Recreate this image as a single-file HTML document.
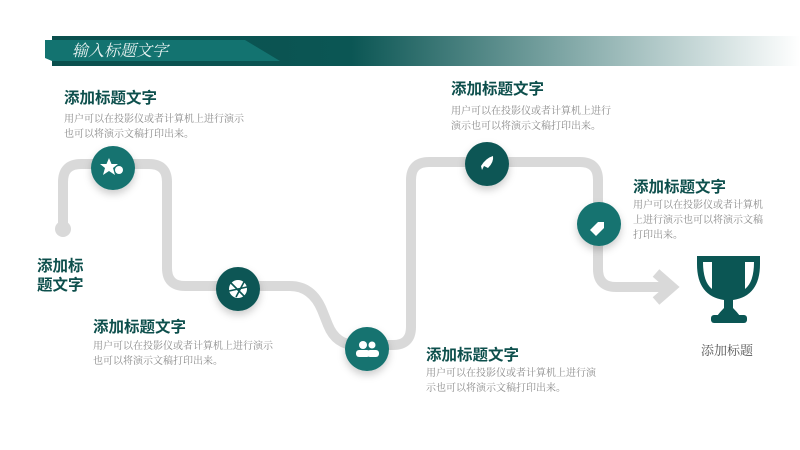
<!DOCTYPE html>
<html><head><meta charset="utf-8"><style>
body{margin:0;width:800px;height:450px;background:#fff;position:relative;overflow:hidden;font-family:"Liberation Sans","Noto Sans CJK SC",sans-serif}
.t{position:absolute;color:#0d4f4c;font-weight:bold;font-size:15.5px;white-space:nowrap}
.d{position:absolute;color:#8a8a8a;font-size:10px;line-height:15px;font-family:"Liberation Serif","Noto Serif CJK SC",serif;white-space:nowrap}
</style></head><body>
<svg width="800" height="450" style="position:absolute;left:0;top:0">
<defs>
<linearGradient id="g" x1="0" x2="1"><stop offset="0" stop-color="#0a4f4d"/><stop offset="0.4" stop-color="#0b5654"/><stop offset="1" stop-color="#0b5654" stop-opacity="0"/></linearGradient>
<filter id="sh" x="-50%" y="-50%" width="200%" height="200%"><feDropShadow dx="0" dy="4" stdDeviation="4" flood-color="#000" flood-opacity="0.2"/></filter>
</defs>
<rect x="52" y="36" width="748" height="30" fill="url(#g)"/>
<polygon points="45,40 245,40 280,61 52,61 45,58" fill="#137370"/>
<text x="72" y="56" fill="#e8f2f1" font-size="16" font-style="italic" font-family="Liberation Serif,Noto Serif CJK SC,serif">输入标题文字</text>
<path d="M63,229 V182 Q63,164 81,164 H149 Q167,164 167,182 V268 Q167,286 185,286 H290 Q312,286 322,310 L328,325 Q336,345 356,345 H393 Q411,345 411,327 V180 Q411,162 429,162 H580 Q598,162 598,180 V269 Q598,287 616,287 H668" fill="none" stroke="#d9d9d9" stroke-width="10"/>
<circle cx="63" cy="229" r="8" fill="#d9d9d9"/>
<polyline points="656,273 672,287 656,301" fill="none" stroke="#d9d9d9" stroke-width="10"/>
<g filter="url(#sh)">
<circle cx="113" cy="168" r="22" fill="#137370"/>
<circle cx="238" cy="289" r="22" fill="#0b5654"/>
<circle cx="367" cy="349" r="22" fill="#137370"/>
<circle cx="487" cy="164" r="22" fill="#0b5654"/>
<circle cx="599" cy="224" r="22" fill="#137370"/>
</g>
<g fill="#fff">
<polygon points="109,158 111.5,164 118,164 113,168 115,175 109,171 103,175 105,168 100,164 106.5,164"/>
<circle cx="119" cy="170" r="4"/>
<circle cx="238" cy="289" r="9"/>
<circle cx="363" cy="345" r="4"/><rect x="356" y="350" width="14" height="7" rx="3"/>
<circle cx="372" cy="345" r="3.5"/><rect x="367" y="350" width="12" height="7" rx="3"/>
<path d="M493,156 Q494,162 488,168 L484,166 L482,170 L481,166 Q486,158 493,156Z"/>
<polygon points="590,230 598,222 604,222 604,228 596,236"/>
</g>
<path d="M231,283 L244,296 M244,282 L236,297 M229,291 L247,287" stroke="#0b5654" stroke-width="1.6"/>
<g fill="#0b5654">
<path d="M697,256 H760 V264 Q760,296 733,300 V308 Q737,312 740,316 H717 Q720,312 724,308 V300 Q697,296 697,264Z"/>
<rect x="711" y="315" width="36" height="8" rx="3"/>
</g>
<path d="M703,262 H712 V289 Q703,282 703,262Z M754,262 H745 V289 Q754,282 754,262Z" fill="#fff"/>
</svg>
<div class="t" style="left:64px;top:86px">添加标题文字</div>
<div class="d" style="left:64px;top:112px">用户可以在投影仪或者计算机上进行演示<br>也可以将演示文稿打印出来。</div>
<div class="t" style="left:37px;top:257px;line-height:19px">添加标<br>题文字</div>
<div class="t" style="left:93px;top:315px">添加标题文字</div>
<div class="d" style="left:93px;top:339px">用户可以在投影仪或者计算机上进行演示<br>也可以将演示文稿打印出来。</div>
<div class="t" style="left:451px;top:77px">添加标题文字</div>
<div class="d" style="left:451px;top:104px">用户可以在投影仪或者计算机上进行<br>演示也可以将演示文稿打印出来。</div>
<div class="t" style="left:633px;top:175px">添加标题文字</div>
<div class="d" style="left:633px;top:198px">用户可以在投影仪或者计算机<br>上进行演示也可以将演示文稿<br>打印出来。</div>
<div class="t" style="left:426px;top:343px">添加标题文字</div>
<div class="d" style="left:426px;top:366px">用户可以在投影仪或者计算机上进行演<br>示也可以将演示文稿打印出来。</div>
<div style="position:absolute;left:701px;top:340px;color:#555;font-size:13px;font-family:'Liberation Serif','Noto Serif CJK SC',serif">添加标题</div>
</body></html>
